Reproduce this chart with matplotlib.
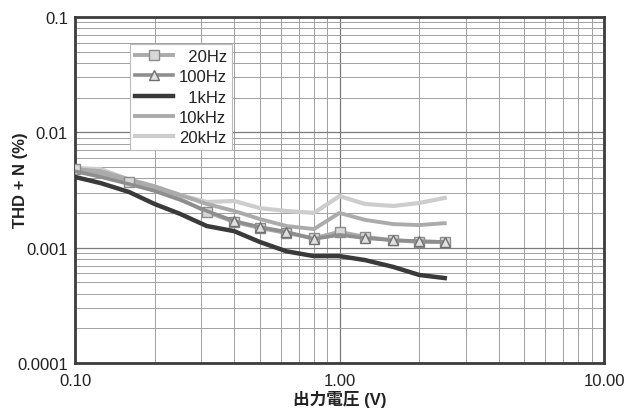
import matplotlib
matplotlib.use("Agg")
import matplotlib.pyplot as plt
from matplotlib.ticker import FixedLocator, FixedFormatter, LogLocator, NullFormatter

plt.rcParams['font.family'] = ['Liberation Sans', 'Noto Sans CJK JP', 'DejaVu Sans']

# output voltage (V)
volts = [0.1, 0.125, 0.16, 0.2, 0.25, 0.315, 0.4, 0.5, 0.63, 0.8, 1.0, 1.25, 1.6, 2.0, 2.5]

# THD + N (%) per test frequency
thd_20hz = [0.0048, 0.0043, 0.0037, 0.0032, 0.00264, 0.00204, 0.00167, 0.00148,
            0.00134, 0.00121, 0.00137, 0.00124, 0.00116, 0.00112, 0.00112]
thd_100hz = [0.0046, 0.0041, 0.00356, 0.0031, 0.00259, 0.00208, 0.0017, 0.00151,
             0.00137, 0.00119, 0.00129, 0.00121, 0.00116, 0.00114, 0.00112]
thd_1khz = [0.0041, 0.00363, 0.00304, 0.00239, 0.00196, 0.00154, 0.00139, 0.00112,
            0.00093, 0.000845, 0.000845, 0.00078, 0.00068, 0.00058, 0.000545]
thd_10khz = [0.0048, 0.0046, 0.0039, 0.0034, 0.00286, 0.00239, 0.00208, 0.00177,
             0.00154, 0.00145, 0.002, 0.00174, 0.0016, 0.00157, 0.00163]
thd_20khz = [0.0049, 0.0048, 0.0039, 0.0034, 0.00286, 0.00249, 0.00254, 0.0022,
             0.00208, 0.002, 0.0028, 0.00239, 0.0023, 0.00244, 0.0027]

labels = ['\u200720Hz', '100Hz', '\u20071kHz', '10kHz', '20kHz']

x_ticks = [0.1, 1.0, 10.0]
x_ticklabels = ['0.10', '1.00', '10.00']
y_ticks = [0.0001, 0.001, 0.01, 0.1]
y_ticklabels = ['0.0001', '0.001', '0.01', '0.1']

fig = plt.figure(figsize=(6.32, 4.14), dpi=100)
ax = fig.add_axes([0.1187, 0.1208, 0.837, 0.8357])

ax.plot(volts, thd_20hz, color='#ababab', lw=2.8, marker='s', ms=6.5,
        mfc='#d8d8d8', mec='#8c8c8c', mew=1.0,
        markevery=[0, 2, 5, 6, 7, 8, 9, 10, 11, 12, 13, 14], label=labels[0], zorder=4)
ax.plot(volts, thd_100hz, color='#8e8e8e', lw=2.6, marker='^', ms=6.5,
        mfc='#e0e0e0', mec='#707070', mew=1.0,
        markevery=[6, 7, 8, 9, 11, 12, 13, 14], label=labels[1], zorder=4)
ax.plot(volts, thd_1khz, color='#3a3a3a', lw=3.2, label=labels[2], zorder=5)
ax.plot(volts, thd_10khz, color='#ababab', lw=2.8, label=labels[3], zorder=3)
ax.plot(volts, thd_20khz, color='#cdcdcd', lw=3.0, label=labels[4], zorder=2)

ax.set_xscale('log')
ax.set_yscale('log')
ax.set_xlim(0.1, 10)
ax.set_ylim(0.0001, 0.1)

ax.xaxis.set_major_locator(FixedLocator(x_ticks))
ax.xaxis.set_major_formatter(FixedFormatter(x_ticklabels))
ax.yaxis.set_major_locator(FixedLocator(y_ticks))
ax.yaxis.set_major_formatter(FixedFormatter(y_ticklabels))
ax.xaxis.set_minor_locator(LogLocator(base=10, subs=range(2, 10)))
ax.yaxis.set_minor_locator(LogLocator(base=10, subs=range(2, 10)))
ax.xaxis.set_minor_formatter(NullFormatter())
ax.yaxis.set_minor_formatter(NullFormatter())

ax.grid(which='major', color='#7a7a7a', lw=0.9)
ax.grid(which='minor', color='#a0a0a0', lw=0.7)
ax.set_axisbelow(True)
ax.tick_params(which='both', length=0, labelsize=12, colors='#222222')
ax.tick_params(axis='x', pad=7)
ax.tick_params(axis='y', pad=5)

for s in ax.spines.values():
    s.set_linewidth(2.0)
    s.set_color('#3c3c3c')

ax.set_ylabel('THD + N (%)', fontsize=12, fontweight='bold', color='#222222')
ax.yaxis.set_label_coords(-0.088, 0.53)
ax.set_xlabel('出力電圧 (V)', fontsize=12, fontweight='bold', color='#222222', labelpad=2)

leg = ax.legend(loc='upper left', bbox_to_anchor=(0.104, 0.922), borderaxespad=0,
                fontsize=12, handlelength=2.3, handletextpad=0.35, labelspacing=0.32,
                borderpad=0.3, fancybox=False, framealpha=1, edgecolor='#bbbbbb')
leg.get_frame().set_linewidth(0.8)
for t in leg.get_texts():
    t.set_color('#222222')

fig.savefig('out.png', dpi=100)
